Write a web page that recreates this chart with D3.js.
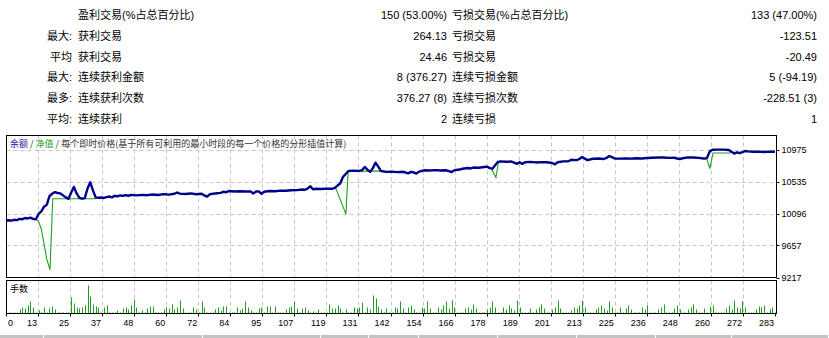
<!DOCTYPE html>
<html>
<head>
<meta charset="utf-8">
<script src="https://cdn.jsdelivr.net/npm/d3@7"></script>
<style>
  body { margin: 0; background: #fff; }
  svg { display: block; }
</style>
</head>
<body>
<svg id="chart" width="829" height="338"></svg>
<script>
// Stats table rows
const statPrefix = ["", "最大:", "平均", "最大:", "最多:", "平均:"];
const statLeftLabel = ["盈利交易(%占总百分比)", "获利交易", "获利交易", "连续获利金额", "连续获利次数", "连续获利"];
const statLeftValue = ["150 (53.00%)", "264.13", "24.46", "8 (376.27)", "376.27 (8)", "2"];
const statRightLabel = ["亏损交易(%占总百分比)", "亏损交易", "亏损交易", "连续亏损金额", "连续亏损次数", "连续亏损"];
const statRightValue = ["133 (47.00%)", "-123.51", "-20.49", "5 (-94.19)", "-228.51 (3)", "1"];

// Axis ticks
const yTicks = [9217, 9657, 10096, 10535, 10975];
const xTickLabels = [0, 13, 25, 37, 48, 60, 72, 84, 95, 107, 119, 131, 142, 154, 166, 178, 189, 201, 213, 225, 236, 248, 260, 272, 283];

// Balance after each trade [trade index, balance]
const balancePts = [
  [0,10000],[1,10004],[2,9998],[3,10010],[4,10006],[5,10022],[6,10018],[7,10034],[8,10028],[9,10040],[10,10020],[11,10018],
  [12,10090],[13,10125],[14,10190],[15,10215],[16,10335],[17,10368],[18,10390],[19,10378],[20,10372],[21,10345],[22,10318],
  [23,10298],[24,10385],[25,10462],[26,10372],[27,10312],[28,10300],[29,10308],[30,10440],[31,10525],[32,10415],[33,10318],
  [34,10312],[35,10316],[36,10310],[37,10322],[38,10330],[39,10318],[40,10340],[41,10332],[42,10345],[43,10338],[44,10350],
  [45,10340],[46,10352],[48,10345],[50,10352],[52,10348],[54,10358],[56,10350],[58,10362],[60,10355],[62,10368],[63,10385],
  [64,10370],[66,10365],[68,10372],[70,10360],[72,10368],[73,10345],[74,10328],[75,10360],[77,10372],[79,10380],[80,10395],
  [81,10388],[82,10405],[84,10398],[86,10402],[88,10398],[90,10400],[91,10372],[92,10398],[93,10400],[94,10368],[95,10395],
  [97,10405],[99,10402],[101,10410],[103,10408],[105,10415],[107,10418],[109,10426],[110,10422],[111,10440],[112,10470],
  [113,10428],[114,10436],[116,10432],[118,10438],[120,10436],[121,10448],[122,10480],[123,10508],[124,10598],[125,10640],
  [126,10681],[128,10686],[130,10682],[131,10690],[132,10736],[133,10700],[134,10668],[135,10720],[136,10795],[137,10740],
  [138,10680],[140,10668],[142,10672],[144,10665],[146,10670],[147,10660],[148,10648],[149,10668],[150,10660],[151,10645],
  [152,10672],[154,10690],[156,10688],[158,10692],[160,10688],[162,10690],[163,10678],[164,10665],[165,10690],[167,10700],
  [168,10712],[170,10722],[171,10715],[172,10728],[174,10725],[176,10735],[177,10740],[178,10720],[179,10712],[180,10760],
  [181,10805],[182,10812],[184,10808],[186,10810],[187,10795],[188,10778],[189,10800],[190,10778],[191,10800],[193,10805],
  [195,10798],[197,10802],[199,10800],[201,10790],[202,10772],[203,10800],[205,10812],[207,10815],[208,10835],[210,10830],
  [211,10845],[212,10872],[213,10850],[214,10830],[216,10848],[218,10852],[220,10845],[221,10860],[222,10886],[223,10870],
  [224,10852],[226,10850],[228,10852],[230,10850],[232,10855],[234,10852],[236,10858],[238,10862],[240,10865],[242,10866],
  [244,10860],[246,10862],[247,10852],[248,10845],[249,10855],[251,10868],[253,10865],[255,10860],[256,10855],[257,10850],
  [258,10862],[259,10950],[260,10972],[262,10974],[264,10974],[266,10968],[267,10945],[268,10920],[269,10936],[270,10925],
  [271,10938],[272,10955],[273,10950],[275,10944],[277,10946],[279,10942],[281,10946],[283,10944]
];

// Equity drawdowns where equity leaves the balance line
const equityDip1 = [[11,10018],[12,9985],[13,9880],[14,9680],[15,9470],[16.2,9322],[17.2,10300],[33,10300]];
const equityDip2 = [[121.3,10448],[125.1,10088],[125.9,10680],[139,10678]];
const equityDip3 = [[178.6,10715],[180.3,10590],[181.2,10800]];
const equityDip4 = [[257.9,10852],[259,10714],[260.2,10927],[266.4,10927]];

// Lots per trade (hundredths), trades 1..283
const lots = [
  1,1,1,1,4,6,5,8,12,6,1,3,
  1,6,1,5,7,4,1,1,1,1,1,16,
  10,6,5,6,8,28,17,9,7,6,1,6,
  8,1,1,1,3,1,5,6,4,8,14,6,
  1,3,1,5,7,7,1,1,1,4,6,5,
  9,4,6,13,5,1,1,1,6,4,1,12,
  6,1,1,1,4,6,3,7,7,1,1,1,
  6,3,5,12,6,3,1,1,5,6,1,7,
  7,1,7,1,1,1,4,6,7,12,5,1,
  5,6,3,1,2,1,4,1,1,1,9,5,
  5,8,5,1,4,1,1,6,5,6,11,1,
  6,4,18,15,7,4,1,5,1,1,6,5,
  12,5,1,6,8,4,1,1,6,5,12,5,
  1,1,6,4,8,12,5,13,6,1,1,1,
  5,6,4,9,5,1,1,1,4,6,12,6,
  1,1,6,4,8,5,3,13,6,1,1,1,
  5,1,4,6,9,5,1,1,4,6,13,5,
  1,1,1,3,6,5,8,13,6,1,1,1,
  4,6,8,5,3,12,6,1,1,6,1,5,
  8,4,1,1,1,6,4,8,1,1,1,4,
  6,9,1,1,1,5,8,4,1,1,4,6,
  9,4,1,1,5,1,7,8,1,1,1,1,
  5,8,4,13,6,5,12,6,1,1,1,4,
  7,6,8,1,4,6,1
];

const svg = d3.select("#chart");
const W = 829, H = 338;
const cjk = "'Liberation Sans', 'Noto Sans CJK SC', sans-serif";

svg.append("rect").attr("width", W).attr("height", H).attr("fill", "#fff");

// ---- stats table ----
const rowY = d3.scalePoint().domain(d3.range(statPrefix.length)).range([19, 123]);
const stats = svg.append("g").attr("font-family", cjk).attr("font-size", 11).attr("fill", "#000");
statPrefix.forEach((t, i) => {
    const y = rowY(i);
    stats.append("text").attr("x", 72).attr("y", y).attr("text-anchor", "end").text(t);
    stats.append("text").attr("x", 78).attr("y", y).text(statLeftLabel[i]);
    stats.append("text").attr("x", 447).attr("y", y).attr("text-anchor", "end").text(statLeftValue[i]);
    stats.append("text").attr("x", 452).attr("y", y).text(statRightLabel[i]);
    stats.append("text").attr("x", 817).attr("y", y).attr("text-anchor", "end").text(statRightValue[i]);
});

// ---- chart geometry ----
const left = 6.5, right = 776.5;
const mainTop = 135.5, mainBottom = 277.5;
const volTop = 280.5, volBottom = 313.5;

const x = d3.scaleLinear().domain([0, 283]).range([6, 775]);
const xGrid = d3.scalePoint().domain(xTickLabels).range([6, 775]);
const y = d3.scaleLinear().domain([9217, 11168]).range([mainBottom, mainTop]);
const yVol = d3.scaleLinear().domain([0, 33]).range([volBottom, volTop]);

const gridColor = "#c8c8c8";

// clip for plot
const defs = svg.append("defs");
defs.append("clipPath").attr("id", "mainClip").append("rect")
    .attr("x", left).attr("y", mainTop).attr("width", right - left).attr("height", mainBottom - mainTop);

// vertical gridlines (main + volume)
const innerGrid = xTickLabels.slice(1, -1);
const grid = svg.append("g").attr("stroke", gridColor).attr("stroke-dasharray", "4,3").attr("stroke-width", 1);
grid.selectAll("line.v1").data(innerGrid).join("line")
    .attr("x1", d => Math.round(xGrid(d)) + 0.5).attr("x2", d => Math.round(xGrid(d)) + 0.5)
    .attr("y1", mainTop).attr("y2", mainBottom);
grid.selectAll("line.v2").data(innerGrid).join("line")
    .attr("x1", d => Math.round(xGrid(d)) + 0.5).attr("x2", d => Math.round(xGrid(d)) + 0.5)
    .attr("y1", volTop).attr("y2", volBottom);
// horizontal gridlines
grid.selectAll("line.h").data(yTicks.slice(1)).join("line")
    .attr("x1", left).attr("x2", right)
    .attr("y1", d => Math.round(y(d)) + 0.5).attr("y2", d => Math.round(y(d)) + 0.5);

// equity built from balance with drawdown segments replaced
function buildEquity(bal, dips) {
    let pts = bal.slice();
    dips.forEach(dp => {
        const a = dp[0][0], b = dp[dp.length - 1][0];
        pts = pts.filter(p => p[0] < a || p[0] > b).concat(dp);
    });
    return pts.sort((p, q) => p[0] - q[0]);
}
const equityPts = buildEquity(balancePts, [equityDip1, equityDip2, equityDip3, equityDip4]);

const line = d3.line().x(d => x(d[0])).y(d => y(d[1]));
const plot = svg.append("g").attr("clip-path", "url(#mainClip)");
plot.append("path").datum(equityPts).attr("d", line)
    .attr("fill", "none").attr("stroke", "#1ea01e").attr("stroke-width", 1.1);
plot.append("path").datum(balancePts).attr("d", line)
    .attr("fill", "none").attr("stroke", "#00008b").attr("stroke-width", 2.4)
    .attr("stroke-linejoin", "round");

// chart title
const title = svg.append("text").attr("x", 10).attr("y", 147)
    .attr("font-family", "'Noto Sans CJK SC', sans-serif").attr("font-size", 9);
title.append("tspan").attr("fill", "#1c1c9c").text("余额");
title.append("tspan").attr("fill", "#333").text(" / ");
title.append("tspan").attr("fill", "#1ea01e").text("净值");
title.append("tspan").attr("fill", "#333").text(" / 每个即时价格(基于所有可利用的最小时段的每一个价格的分形插值计算)");

// volume bars
svg.append("g").selectAll("line").data(lots).join("line")
    .attr("x1", (d, i) => Math.round(x(i + 1)) + 0.5)
    .attr("x2", (d, i) => Math.round(x(i + 1)) + 0.5)
    .attr("y1", yVol(0))
    .attr("y2", d => yVol(d))
    .attr("stroke", "#1ea01e").attr("stroke-width", 1);

svg.append("text").attr("x", 10).attr("y", 292)
    .attr("font-family", "'Noto Sans CJK SC', sans-serif").attr("font-size", 9).attr("fill", "#000")
    .text("手数");

// frames
svg.append("rect").attr("x", left).attr("y", mainTop).attr("width", right - left).attr("height", mainBottom - mainTop)
    .attr("fill", "none").attr("stroke", "#000").attr("stroke-width", 1);
svg.append("rect").attr("x", left).attr("y", volTop).attr("width", right - left).attr("height", volBottom - volTop)
    .attr("fill", "none").attr("stroke", "#000").attr("stroke-width", 1);

// y axis labels
const yAxis = svg.append("g").attr("font-family", "'Liberation Sans', sans-serif").attr("font-size", 9).attr("fill", "#000");
yAxis.selectAll("line").data(yTicks).join("line")
    .attr("x1", right).attr("x2", right + 3)
    .attr("y1", d => Math.round(y(d)) + 0.5).attr("y2", d => Math.round(y(d)) + 0.5)
    .attr("stroke", "#000");
yAxis.selectAll("text").data(yTicks).join("text")
    .attr("x", right + 5).attr("y", d => y(d) + 3.5)
    .text(d => d);

// x axis labels
const xAxis = svg.append("g").attr("font-family", "'Liberation Sans', sans-serif").attr("font-size", 9).attr("fill", "#000");
xAxis.selectAll("line").data(xTickLabels).join("line")
    .attr("x1", d => Math.round(xGrid(d)) + 0.5).attr("x2", d => Math.round(xGrid(d)) + 0.5)
    .attr("y1", volBottom).attr("y2", volBottom + 3).attr("stroke", "#000");
xAxis.selectAll("text").data(xTickLabels).join("text")
    .attr("x", (d, i) => i === 0 ? 8 : xGrid(d) - 1)
    .attr("y", 326)
    .attr("text-anchor", (d, i) => i === 0 ? "start" : "end")
    .text(d => d);

// clipped header strip of the next table
const strip = [0, 44, 203, 321, 369, 419, 498, 577, 656, 732, 829];
svg.append("g").selectAll("rect").data(d3.pairs(strip)).join("rect")
    .attr("x", d => d[0]).attr("y", 335).attr("width", d => d[1] - d[0] - 1).attr("height", 3)
    .attr("fill", "#c4c4c4");
</script>
</body>
</html>
